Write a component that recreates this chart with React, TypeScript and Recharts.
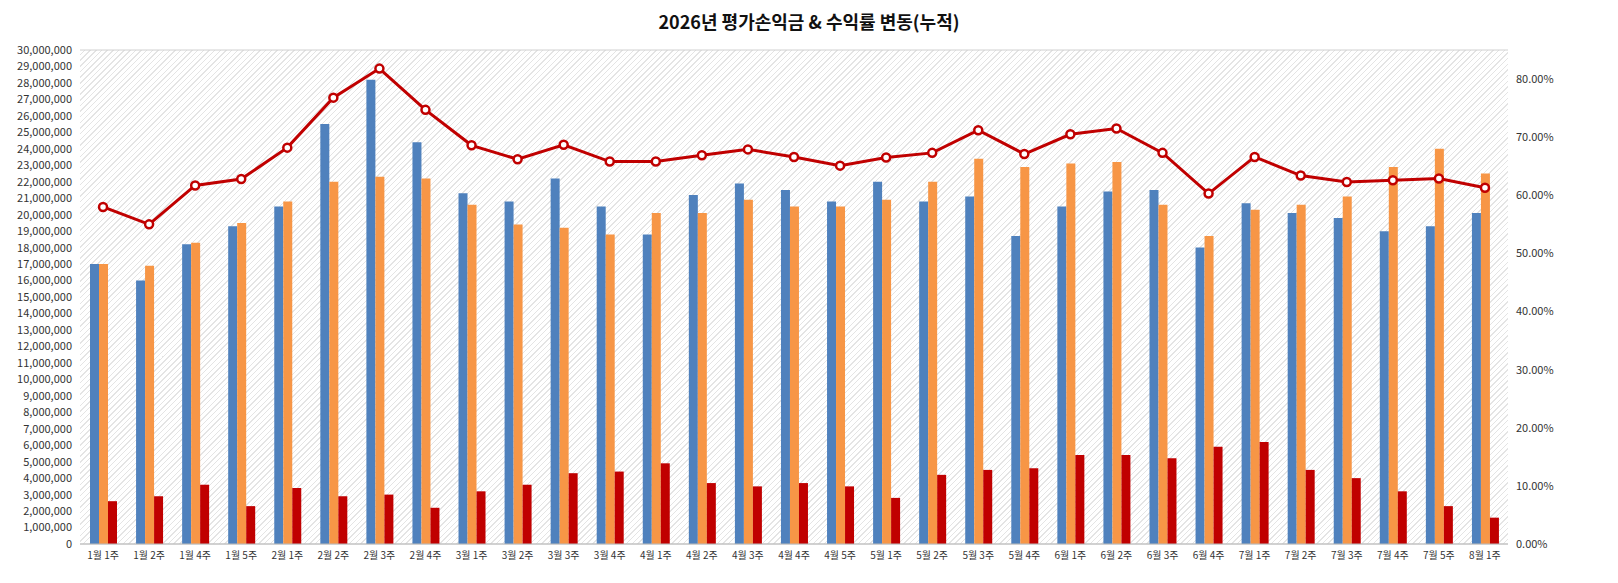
import React from "react";
import {
  ComposedChart,
  Bar,
  Line,
  XAxis,
  YAxis,
  CartesianGrid,
} from "recharts";

const weeks = [
  "1월 1주", "1월 2주", "1월 4주", "1월 5주", "2월 1주", "2월 2주", "2월 3주", "2월 4주",
  "3월 1주", "3월 2주", "3월 3주", "3월 4주", "4월 1주", "4월 2주", "4월 3주", "4월 4주",
  "4월 5주", "5월 1주", "5월 2주", "5월 3주", "5월 4주", "6월 1주", "6월 2주", "6월 3주",
  "6월 4주", "7월 1주", "7월 2주", "7월 3주", "7월 4주", "7월 5주", "8월 1주",
];

// millions
const blueValues = [
  17.0, 16.0, 18.2, 19.3, 20.5, 25.5, 28.2, 24.4, 21.3, 20.8, 22.2, 20.5, 18.8, 21.2, 21.9, 21.5,
  20.8, 22.0, 20.8, 21.1, 18.7, 20.5, 21.4, 21.5, 18.0, 20.7, 20.1, 19.8, 19.0, 19.3, 20.1,
];
const orangeValues = [
  17.0, 16.9, 18.3, 19.5, 20.8, 22.0, 22.3, 22.2, 20.6, 19.4, 19.2, 18.8, 20.1, 20.1, 20.9, 20.5,
  20.5, 20.9, 22.0, 23.4, 22.9, 23.1, 23.2, 20.6, 18.7, 20.3, 20.6, 21.1, 22.9, 24.0, 22.5,
];
const redValues = [
  2.6, 2.9, 3.6, 2.3, 3.4, 2.9, 3.0, 2.2, 3.2, 3.6, 4.3, 4.4, 4.9, 3.7, 3.5, 3.7,
  3.5, 2.8, 4.2, 4.5, 4.6, 5.4, 5.4, 5.2, 5.9, 6.2, 4.5, 4.0, 3.2, 2.3, 1.6,
];
// percent
const rateValues = [
  58.0, 55.0, 61.7, 62.8, 68.2, 76.8, 81.8, 74.7, 68.6, 66.2, 68.7, 65.8, 65.8, 66.9, 67.9, 66.6,
  65.1, 66.5, 67.3, 71.2, 67.1, 70.5, 71.5, 67.3, 60.3, 66.6, 63.4, 62.3, 62.6, 62.9, 61.3,
];

const leftTicks = Array.from({ length: 31 }, (_, i) => i * 1000000);
const rightTicks = [0, 0.1, 0.2, 0.3, 0.4, 0.5, 0.6, 0.7, 0.8];

const data = weeks.map((w, i) => ({
  week: w,
  blue: blueValues[i] * 1000000,
  orange: orangeValues[i] * 1000000,
  red: redValues[i] * 1000000,
  rate: rateValues[i] / 100,
}));

const FONT = "'Noto Sans CJK KR', 'Noto Sans', sans-serif";

export default function App() {
  return (
    <div style={{ position: "relative", width: 1618, height: 583, background: "#fff", fontFamily: FONT }}>
      <style>{`body{margin:0}`}</style>
      <div
        style={{
          position: "absolute",
          left: 80,
          top: 50,
          width: 1428,
          height: 494,
          background:
            "repeating-linear-gradient(-45deg, #ffffff 0px, #ffffff 3px, #e4e4e4 3px, #e4e4e4 4px)",
        }}
      />
      <div
        style={{
          position: "absolute",
          top: 8,
          width: "100%",
          textAlign: "center",
          fontSize: 18,
          fontWeight: 700,
          color: "#111",
        }}
      >
        2026년 평가손익금 &amp; 수익률 변동(누적)
      </div>
      <div style={{ position: "absolute", left: 0, top: 0 }}>
        <ComposedChart
          width={1618}
          height={583}
          data={data}
          margin={{ top: 50, right: 50, bottom: 9, left: 5 }}
          barGap={0}
        >
          <CartesianGrid vertical={false} stroke="#d0d0d0" />
          <XAxis
            dataKey="week"
            interval={0}
            tick={{ fontSize: 10, fill: "#333", fontFamily: FONT }}
            tickLine={false}
            axisLine={{ stroke: "#bbb" }}
            height={30}
          />
          <YAxis
            yAxisId="left"
            domain={[0, 30000000]}
            ticks={leftTicks}
            interval={0}
            width={75}
            tickFormatter={(v: number) => v.toLocaleString("en-US")}
            tick={{ fontSize: 11, fill: "#333", fontFamily: FONT }}
            tickLine={false}
            axisLine={false}
          />
          <YAxis
            yAxisId="right"
            orientation="right"
            domain={[0, 0.85]}
            ticks={rightTicks}
            width={60}
            tickFormatter={(v: number) => (v * 100).toFixed(2) + "%"}
            tick={{ fontSize: 11, fill: "#333", fontFamily: FONT }}
            tickLine={false}
            axisLine={false}
          />
          <Bar yAxisId="left" dataKey="blue" fill="#4F81BD" barSize={9} isAnimationActive={false} />
          <Bar yAxisId="left" dataKey="orange" fill="#F79646" barSize={9} isAnimationActive={false} />
          <Bar yAxisId="left" dataKey="red" fill="#C00000" barSize={9} isAnimationActive={false} />
          <Line
            yAxisId="right"
            dataKey="rate"
            stroke="#C00000"
            strokeWidth={3}
            dot={{ r: 4, fill: "#fff", stroke: "#C00000", strokeWidth: 2.5 }}
            isAnimationActive={false}
          />
        </ComposedChart>
      </div>
    </div>
  );
}
